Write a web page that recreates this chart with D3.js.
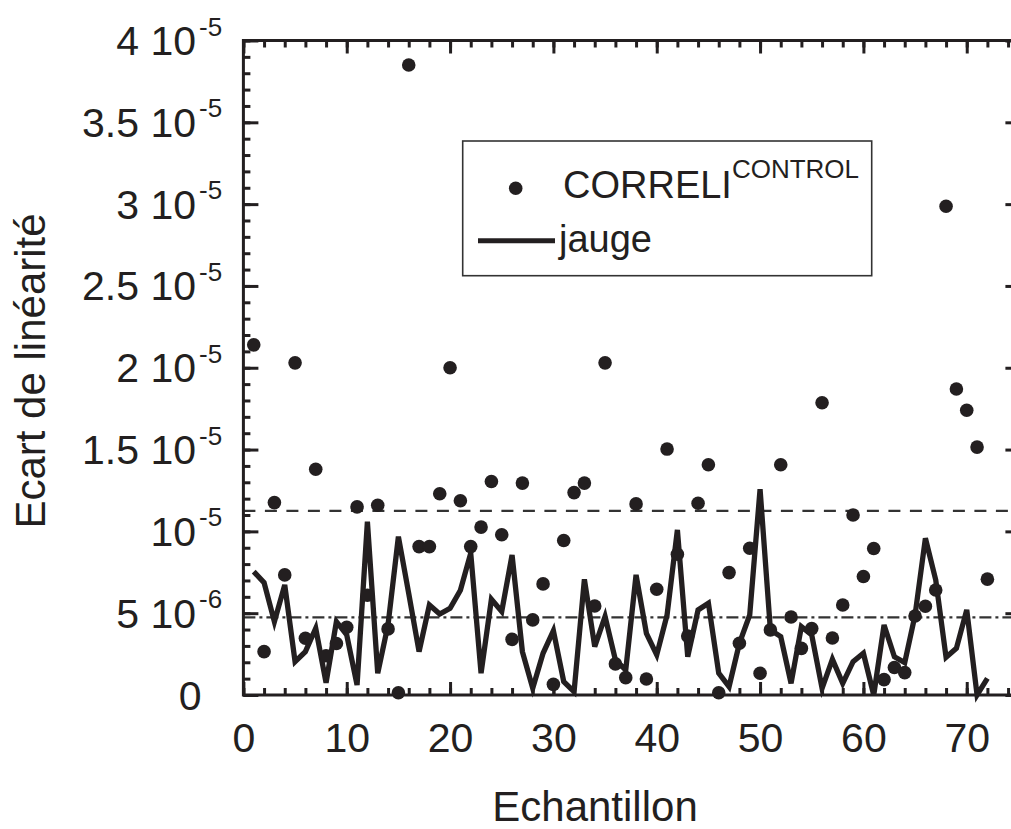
<!DOCTYPE html>
<html>
<head>
<meta charset="utf-8">
<script src="https://cdn.jsdelivr.net/npm/d3@7"></script>
<style>
body { margin: 0; background: #fff; }
text { font-family: "Liberation Sans", Arial, sans-serif; fill: #231f20; }
</style>
</head>
<body>
<div id="content"></div>
<script>
// values are in units of 1e-6
var samples = d3.range(1, 73);
var correli = [21.4, 2.65, 11.76, 7.34, 20.3, 3.47, 13.8, 2.4, 3.15, 4.14,
               11.5, 6.1, 11.6, 4.04, 0.14, 38.5, 9.07, 9.07, 12.3, 20.0,
               11.87, 9.07, 10.26, 13.05, 9.79, 3.4, 12.95, 4.59, 6.79, 0.65,
               9.44, 12.37, 12.95, 5.44, 20.3, 1.9, 1.06, 11.68, 0.98, 6.46,
               15.03, 8.6, 3.6, 11.72, 14.07, 0.14, 7.48, 3.16, 8.97, 1.33,
               3.98, 14.07, 4.77, 2.85, 4.06, 17.86, 3.48, 5.5, 11.0, 7.24,
               8.95, 0.94, 1.68, 1.37, 4.83, 5.42, 6.42, 29.87, 18.7, 17.4,
               15.15, 7.08];
var jauge = [7.54, 6.87, 4.48, 6.73, 2.04, 2.65, 4.08, 0.75, 4.48, 3.67,
             0.61, 10.6, 1.33, 4.3, 9.68, 6.2, 2.65, 5.5, 4.95, 5.3,
             6.4, 8.67, 1.33, 5.85, 5.1, 8.56, 2.65, 0.41, 2.55, 3.93,
             0.82, 0.2, 7.07, 2.96, 4.8, 2.14, 1.53, 7.34, 3.77, 2.45,
             4.89, 10.09, 2.34, 5.2, 5.61, 1.33, 0.51, 3.16, 4.89, 12.58,
             3.98, 3.57, 0.71, 4.18, 3.67, 0.41, 2.18, 0.71, 2.04, 2.55,
             0.0, 4.28, 2.34, 1.98, 4.89, 9.58, 7.03, 2.3, 2.85, 5.2,
             0.0, 1.02];
var refDashed = 11.25;   // dashed level
var refDashDot = 4.75;   // dash-dot level

var xTicks = [0, 10, 20, 30, 40, 50, 60, 70];
var yTickValues = [0, 5, 10, 15, 20, 25, 30, 35, 40];
var yTickMain = ["0", "5 10", "10", "1.5 10", "2 10", "2.5 10", "3 10", "3.5 10", "4 10"];
var yTickExp = ["", "-6", "-5", "-5", "-5", "-5", "-5", "-5", "-5"];

var W = 1011, H = 829;
// note: "top" is reserved on window, so plot edges get their own names
var pL = 243.4, pR = 1018.4, pT = 40.5, pB = 695;
var ink = '#231f20';

var svg = d3.select('#content')
    .append('svg')
    .attr('width', W)
    .attr('height', H);

var x = d3.scaleLinear().domain([0, 75]).range([pL, pR]);
var y = d3.scaleLinear().domain([0, 40]).range([pB, pT]);

// reference levels
svg.append('line')
    .attr('x1', x(0)).attr('x2', x(75))
    .attr('y1', y(refDashed)).attr('y2', y(refDashed))
    .attr('stroke', '#333').attr('stroke-width', 2.2)
    .attr('stroke-dasharray', '12,9.5');
svg.append('line')
    .attr('x1', x(0)).attr('x2', x(75))
    .attr('y1', y(refDashDot)).attr('y2', y(refDashDot))
    .attr('stroke', '#333').attr('stroke-width', 2.2)
    .attr('stroke-dasharray', '12,4,3,4');

// jauge line
var line = d3.line()
    .x(function(d, i){ return x(samples[i]); })
    .y(function(d){ return y(d); });
svg.append('path')
    .datum(jauge)
    .attr('d', line)
    .attr('fill', 'none')
    .attr('stroke', ink)
    .attr('stroke-width', 5.3)
    .attr('stroke-linejoin', 'miter');

// correli points
svg.append('g')
    .selectAll('circle')
    .data(correli)
    .enter()
    .append('circle')
    .attr('cx', function(d, i){ return x(samples[i]); })
    .attr('cy', function(d){ return y(d); })
    .attr('r', 6.8)
    .attr('fill', ink);

// axes: inward ticks on all four sides
function style_axis(g){
    g.select('.domain').remove();
    g.selectAll('line').attr('stroke', ink).attr('stroke-width', 3);
}
var minorX = d3.range(0, 76, 2);
var minorY = d3.range(0, 41, 1);

svg.append('g').attr('transform', 'translate(0,' + pB + ')')
    .call(d3.axisBottom(x).tickValues(minorX).tickSize(-7).tickFormat(''))
    .call(style_axis);
svg.append('g').attr('transform', 'translate(0,' + pB + ')')
    .call(d3.axisBottom(x).tickValues(xTicks).tickSize(-13).tickPadding(28))
    .call(style_axis)
    .selectAll('text')
    .attr('font-size', 41)
    .attr('font-family', '"Liberation Sans", Arial, sans-serif')
    .attr('fill', ink);
svg.append('g').attr('transform', 'translate(0,' + pT + ')')
    .call(d3.axisTop(x).tickValues(minorX).tickSize(-7).tickFormat(''))
    .call(style_axis);
svg.append('g').attr('transform', 'translate(0,' + pT + ')')
    .call(d3.axisTop(x).tickValues(xTicks).tickSize(-13).tickFormat(''))
    .call(style_axis);
svg.append('g').attr('transform', 'translate(' + pL + ',0)')
    .call(d3.axisLeft(y).tickValues(minorY).tickSize(-7).tickFormat(''))
    .call(style_axis);
svg.append('g').attr('transform', 'translate(' + pL + ',0)')
    .call(d3.axisLeft(y).tickValues(yTickValues).tickSize(-15).tickFormat(''))
    .call(style_axis);
svg.append('g').attr('transform', 'translate(' + pR + ',0)')
    .call(d3.axisRight(y).tickValues(minorY).tickSize(-7).tickFormat(''))
    .call(style_axis);
svg.append('g').attr('transform', 'translate(' + pR + ',0)')
    .call(d3.axisRight(y).tickValues(yTickValues).tickSize(-13).tickFormat(''))
    .call(style_axis);

// frame
svg.append('rect')
    .attr('x', pL).attr('y', pT)
    .attr('width', pR - pL).attr('height', pB - pT)
    .attr('fill', 'none')
    .attr('stroke', ink)
    .attr('stroke-width', 3);

// y tick labels with exponents
var ylab = svg.append('g');
ylab.selectAll('text.main')
    .data(yTickValues)
    .enter()
    .append('text')
    .attr('class', 'main')
    .attr('x', function(d, i){ return yTickExp[i] ? 196 : 201.5; })
    .attr('y', function(d){ return y(d) + 14.5; })
    .attr('text-anchor', 'end')
    .attr('font-size', 41)
    .text(function(d, i){ return yTickMain[i]; });
ylab.selectAll('text.exp')
    .data(yTickValues)
    .enter()
    .append('text')
    .attr('class', 'exp')
    .attr('x', 199)
    .attr('y', function(d){ return y(d) + 14.5 - 19.5; })
    .attr('font-size', 26)
    .text(function(d, i){ return yTickExp[i]; });

// axis titles
svg.append('text')
    .attr('x', 595).attr('y', 821)
    .attr('text-anchor', 'middle')
    .attr('font-size', 42)
    .text('Echantillon');
svg.append('text')
    .attr('transform', 'translate(45,371) rotate(-90)')
    .attr('text-anchor', 'middle')
    .attr('font-size', 42)
    .text('Ecart de linéarité');

// legend
var leg = svg.append('g');
leg.append('rect')
    .attr('x', 462.7).attr('y', 141)
    .attr('width', 409).attr('height', 134.7)
    .attr('fill', '#fff')
    .attr('stroke', '#333')
    .attr('stroke-width', 1.6);
leg.append('circle')
    .attr('cx', 515.7).attr('cy', 188.3)
    .attr('r', 6.8)
    .attr('fill', ink);
var t1 = leg.append('text')
    .attr('x', 563).attr('y', 198)
    .attr('font-size', 38);
t1.append('tspan').text('CORRELI');
t1.append('tspan')
    .attr('font-size', 26)
    .attr('dy', -20)
    .text('CONTROL');
leg.append('line')
    .attr('x1', 478).attr('x2', 555)
    .attr('y1', 240.7).attr('y2', 240.7)
    .attr('stroke', ink)
    .attr('stroke-width', 5);
leg.append('text')
    .attr('x', 559).attr('y', 252)
    .attr('font-size', 38)
    .text('jauge');
</script>
</body>
</html>
